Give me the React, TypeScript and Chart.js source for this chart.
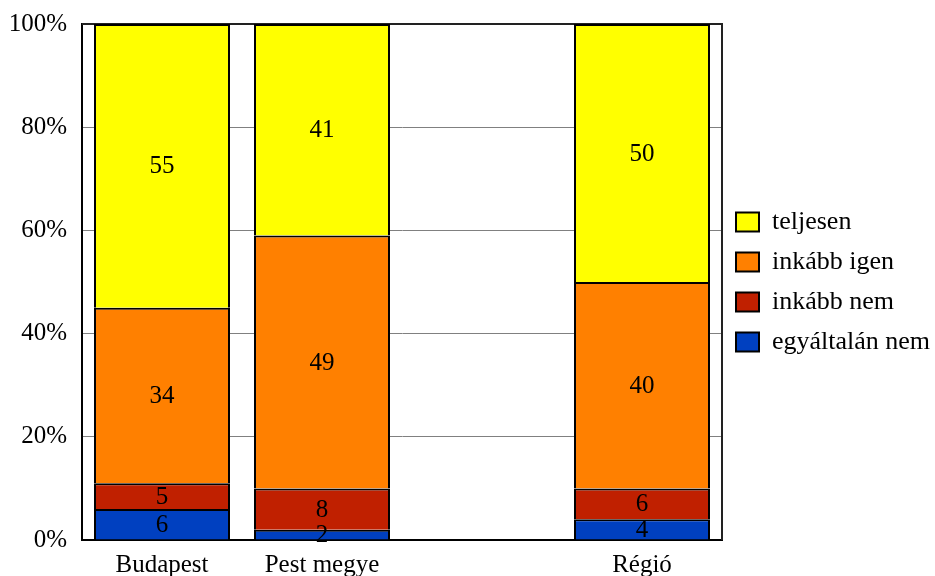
import React, { useEffect, useRef } from "react";
import { Chart, registerables } from "chart.js";

Chart.register(...registerables);

const categories = ["Budapest", "Pest megye", "", "Régió"];
const seriesNames = ["egyáltalán nem", "inkább nem", "inkább igen", "teljesen"];
const egyaltalanNem = [6, 2, null, 4];
const inkabbNem = [5, 8, null, 6];
const inkabbIgen = [34, 49, null, 40];
const teljesen = [55, 41, null, 50];
const seriesColors = ["#0040C0", "#C02000", "#FF8000", "#FFFF00"];
const yTicks = [0, 20, 40, 60, 80, 100];

const FONT = "'Liberation Serif', 'Times New Roman', serif";
const FS = 25;
const LFS = 26;

const labelPlugin = {
  id: "segLabels",
  afterDatasetsDraw(chart: any) {
    const ctx = chart.ctx;
    ctx.save();
    ctx.font = `${FS}px ${FONT}`;
    ctx.fillStyle = "#000";
    ctx.textAlign = "center";
    ctx.textBaseline = "middle";
    chart.data.datasets.forEach((ds: any, di: number) => {
      const meta = chart.getDatasetMeta(di);
      meta.data.forEach((el: any, i: number) => {
        const v = ds.data[i];
        if (v == null) return;
        const p = el.getProps(["x", "y", "base"], true);
        ctx.fillText(String(v), p.x, (p.y + p.base) / 2 + 1);
      });
    });
    ctx.restore();
  },
};

const framePlugin = {
  id: "frame",
  beforeDatasetsDraw(chart: any) {
    const { ctx, chartArea: a } = chart;
    ctx.save();
    ctx.strokeStyle = "#222";
    ctx.lineWidth = 2;
    ctx.beginPath();
    ctx.moveTo(a.left, a.top);
    ctx.lineTo(a.right, a.top);
    ctx.lineTo(a.right, a.bottom);
    ctx.stroke();
    ctx.restore();
  },
};

export default function App() {
  const ref = useRef<HTMLCanvasElement>(null);
  useEffect(() => {
    if (!ref.current) return;
    const data = [egyaltalanNem, inkabbNem, inkabbIgen, teljesen];
    const chart = new Chart(ref.current, {
      type: "bar",
      data: {
        labels: categories,
        datasets: seriesNames.map((name, i) => ({
          label: name,
          data: data[i],
          backgroundColor: seriesColors[i],
          borderColor: "#000",
          borderWidth: 2,
          categoryPercentage: 0.85,
          barPercentage: 1,
        })),
      },
      options: {
        animation: false,
        responsive: true,
        maintainAspectRatio: false,
        layout: { padding: { top: 24, right: 0, left: 0, bottom: 0 } },
        plugins: {
          tooltip: { enabled: false },
          legend: {
            position: "right",
            align: "center",
            reverse: true,
            fullSize: false,
            maxWidth: 213,
            labels: {
              font: { family: FONT, size: LFS },
              color: "#000",
              boxWidth: 23,
              boxHeight: 19,
              padding: 14,
            },
          },
        },
        scales: {
          x: {
            stacked: true,
            grid: { display: false, drawTicks: false },
            border: { color: "#000", width: 2 },
            ticks: { font: { family: FONT, size: FS }, color: "#000", padding: 10, maxRotation: 0 },
            afterFit: (s: any) => { s.height = 36; s.paddingLeft = 0; s.paddingRight = 0; },
          },
          y: {
            stacked: true,
            min: 0,
            max: 100,
            afterBuildTicks: (s: any) => { s.ticks = yTicks.map((v) => ({ value: v })); },
            grid: { color: "#808080", lineWidth: 1, drawTicks: false },
            border: { color: "#000", width: 2 },
            ticks: {
              font: { family: FONT, size: FS },
              color: "#000",
              padding: 15,
              callback: (v: any) => v + "%",
            },
            afterFit: (s: any) => { s.width = 82; s.paddingTop = 0; s.paddingBottom = 0; },
          },
        },
      },
      plugins: [framePlugin, labelPlugin],
    });
    return () => chart.destroy();
  }, []);
  return (
    <div style={{ position: "absolute", left: 0, top: 0, width: 935, height: 576 }}>
      <canvas ref={ref} />
    </div>
  );
}
